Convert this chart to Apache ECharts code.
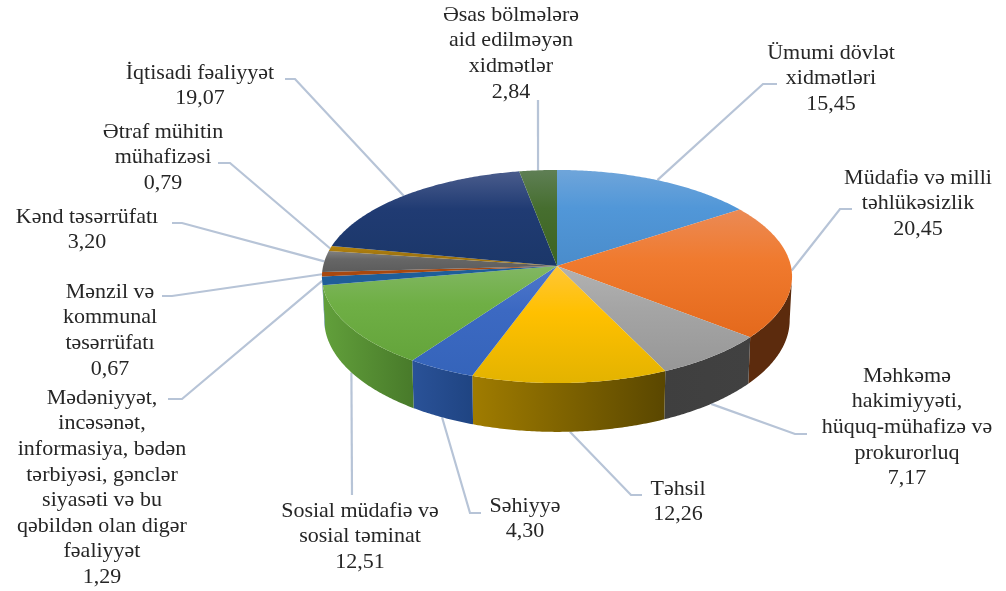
<!DOCTYPE html>
<html lang="az">
<head>
    <meta charset="UTF-8">
    <title>Pie</title>
    <script src="https://cdn.jsdelivr.net/npm/echarts@6/dist/echarts.min.js"></script>
    <style>
        html, body { margin: 0; padding: 0; background: #fff; }
    </style>
</head>
<body>
    <div id="main" style="width: 1006px; height: 591px;"></div>
    <script>
        const categories = [
            'Ümumi dövlət\nxidmətləri',
            'Müdafiə və milli\ntəhlükəsizlik',
            'Məhkəmə\nhakimiyyəti,\nhüquq-mühafizə və\nprokurorluq',
            'Təhsil',
            'Səhiyyə',
            'Sosial müdafiə və\nsosial təminat',
            'Mədəniyyət,\nincəsənət,\ninformasiya, bədən\ntərbiyəsi, gənclər\nsiyasəti və bu\nqəbildən olan digər\nfəaliyyət',
            'Mənzil və\nkommunal\ntəsərrüfatı',
            'Kənd təsərrüfatı',
            'Ətraf mühitin\nmühafizəsi',
            'İqtisadi fəaliyyət',
            'Əsas bölmələrə\naid edilməyən\nxidmətlər'
        ];
        const values = [15.45, 20.45, 7.17, 12.26, 4.30, 12.51, 1.29, 0.67, 3.20, 0.79, 19.07, 2.84];

        // top face: light, base, dark
        const topColors = [
            ['#6FA5DA', '#5197D8', '#4A8CCB'],
            ['#EB8A55', '#F07A2E', '#E4691C'],
            ['#B2B2B2', '#A5A5A5', '#979797'],
            ['#FFC637', '#FFC000', '#E3B300'],
            ['#4F78CC', '#3C69C2', '#3564BA'],
            ['#82B763', '#6FAF45', '#64A43B'],
            ['#1F5E99', '#1F5E99', '#1F5E99'],
            ['#A8480F', '#A8480F', '#A8480F'],
            ['#808080', '#666666', '#5C5C5C'],
            ['#B8860B', '#A07510', '#A07510'],
            ['#4A5C8C', '#203B73', '#1B3769'],
            ['#5F7F55', '#466E2F', '#3C6321']
        ];
        // side wall: left, right
        const wallColors = [
            ['#3F6A96', '#3F6A96'],
            ['#5C2B0D', '#5C2B0D'],
            ['#3F3F3F', '#414141'],
            ['#A07C00', '#5A4700'],
            ['#2A5298', '#1F4482'],
            ['#62A03B', '#487A2A'],
            ['#1F5E99', '#1F5E99'],
            ['#A8480F', '#A8480F'],
            ['#666666', '#666666'],
            ['#A07510', '#A07510'],
            ['#203B73', '#203B73'],
            ['#466E2F', '#466E2F']
        ];

        // label centre x, first line y, leader start [x, y], elbow [x, y] (null = straight line)
        const labelX = [831, 918, 907, 678, 525, 360, 102, 110, 87, 163, 200, 511];
        const labelY = [53, 178, 376, 489, 506, 511, 398, 292, 217, 132, 73, 15];
        const leaderStart = [[777, 84], [852, 209], [807, 434], [642, 495], [481, 513], [352, 495],
            [168, 399], [162, 296], [172, 223], [218, 163], [285, 79], [538, 100]];
        const leaderElbow = [[763, 84], [840, 209], [795, 434], [631, 495], [470, 513], null,
            [182, 399], [172, 296], [182, 223], [230, 163], [295, 79], null];

        const cx = 557, cy = 266, rx = 233.9, ry = 105.5, persp = -0.0986;
        const lineHeight = 25.6;
        const wallFrom = Math.acos(persp), wallTo = Math.PI * 2 - wallFrom;

        const total = values.reduce(function (a, b) { return a + b; }, 0);
        const startAngles = [];
        values.reduce(function (sum, v, i) {
            startAngles[i] = sum / total * Math.PI * 2;
            return sum + v;
        }, 0);

        function topPoint(a) {
            const x = Math.sin(a), y = -Math.cos(a), d = 1 + persp * y;
            return [cx + rx * x / d, cy + ry * y / d];
        }
        function bottomPoint(a) {
            const p = topPoint(a), off = p[1] - cy;
            return [cx + (p[0] - cx) * 0.99, p[1] + 43 + 0.05 * off];
        }
        function arc(fn, a0, a1) {
            const pts = [], n = Math.max(2, Math.ceil((a1 - a0) / 0.01));
            for (let i = 0; i <= n; i++) pts.push(fn(a0 + (a1 - a0) * i / n));
            return pts;
        }
        function sliceEnd(i) {
            return startAngles[i] + values[i] / total * Math.PI * 2;
        }

        function renderSlice(params, api) {
            const i = params.dataIndex;
            const a0 = startAngles[i], a1 = sliceEnd(i);
            const children = [];
            const w0 = Math.max(a0, wallFrom), w1 = Math.min(a1, wallTo);
            if (w1 > w0) {
                const pts = arc(topPoint, w0, w1).concat(arc(bottomPoint, w0, w1).reverse());
                children.push({
                    type: 'polygon',
                    shape: { points: pts },
                    style: {
                        fill: new echarts.graphic.LinearGradient(0, 0, 1, 0, [
                            { offset: 0, color: wallColors[i][0] },
                            { offset: 1, color: wallColors[i][1] }
                        ])
                    }
                });
            }
            const face = [[cx, cy]].concat(arc(topPoint, a0, a1));
            children.push({
                type: 'polygon',
                shape: { points: face },
                style: {
                    fill: new echarts.graphic.LinearGradient(0, 0, 0, 1, [
                        { offset: 0, color: topColors[i][0] },
                        { offset: 0.4, color: topColors[i][1] },
                        { offset: 1, color: topColors[i][2] }
                    ])
                }
            });
            return { type: 'group', children: children };
        }

        function renderLeader(params, api) {
            const i = params.dataIndex;
            const mid = (startAngles[i] + sliceEnd(i)) / 2;
            // slices facing the viewer end on the lower rim
            const end = (mid > wallFrom + 0.3 && mid < wallTo - 0.3) ? bottomPoint(mid) : topPoint(mid);
            const pts = [leaderStart[i]];
            if (leaderElbow[i]) pts.push(leaderElbow[i]);
            pts.push(end);
            return {
                type: 'polyline',
                shape: { points: pts },
                style: { fill: null, stroke: '#B7C4D7', lineWidth: 2.2 }
            };
        }

        function renderLabel(params, api) {
            const i = params.dataIndex;
            return {
                type: 'text',
                style: {
                    text: categories[i] + '\n' + values[i].toFixed(2).replace('.', ','),
                    x: labelX[i],
                    y: labelY[i] - lineHeight / 2,
                    align: 'center',
                    verticalAlign: 'top',
                    fontFamily: '"Liberation Serif"',
                    fontSize: 22,
                    lineHeight: lineHeight,
                    fill: '#262626'
                }
            };
        }

        const seriesData = values.map(function (v, i) {
            return { name: categories[i], value: v };
        });

        var myChart = echarts.init(document.getElementById('main'));
        myChart.setOption({
            backgroundColor: '#fff',
            animation: false,
            series: [
                { type: 'custom', coordinateSystem: 'none', silent: true, data: seriesData, renderItem: renderLeader, z: 1 },
                { type: 'custom', coordinateSystem: 'none', silent: true, data: seriesData, renderItem: renderSlice, z: 2 },
                { type: 'custom', coordinateSystem: 'none', silent: true, data: seriesData, renderItem: renderLabel, z: 3 }
            ]
        });
    </script>
</body>
</html>
